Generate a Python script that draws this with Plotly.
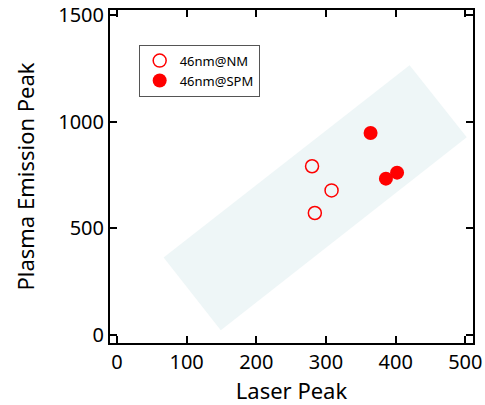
import plotly.graph_objects as go

# Data
nm_x = [280, 308, 284]
nm_y = [791, 678, 572]
spm_x = [364, 386, 402]
spm_y = [947, 733, 761]
band_x = [67, 149, 502, 420, 67]
band_y = [364, 23, 927, 1264, 364]
x_ticks = [0, 100, 200, 300, 400, 500]
y_ticks = [0, 500, 1000, 1500]

FONT = "Noto Sans"

fig = go.Figure()
fig.add_trace(go.Scatter(x=band_x, y=band_y, fill="toself", mode="none",
                         fillcolor="#EEF6F7", showlegend=False, hoverinfo="skip"))
fig.add_trace(go.Scatter(x=nm_x, y=nm_y, mode="markers", name="46nm@NM",
                         marker=dict(symbol="circle-open", size=13, color="#FF0000",
                                     line=dict(width=1.5, color="#FF0000"))))
fig.add_trace(go.Scatter(x=spm_x, y=spm_y, mode="markers", name="46nm@SPM",
                         marker=dict(symbol="circle", size=14, color="#FF0000")))

axis_common = dict(showline=True, linecolor="black", linewidth=2, mirror="ticks",
                   ticks="inside", ticklen=7, tickwidth=2, tickcolor="black",
                   showgrid=False, zeroline=False, automargin=False,
                   tickfont=dict(family=FONT, size=20, color="black"))

fig.update_xaxes(range=[-10, 511], tickvals=x_ticks,
                 title=dict(text="Laser Peak", font=dict(family=FONT, size=22, color="black"),
                            standoff=12),
                 **axis_common)
fig.update_yaxes(range=[-37, 1523], tickvals=y_ticks,
                 title=dict(text="Plasma Emission Peak", font=dict(family=FONT, size=22, color="black"),
                            standoff=18),
                 **axis_common)

fig.update_layout(
    width=485, height=405,
    margin=dict(l=110, r=12, t=10, b=62),
    plot_bgcolor="white", paper_bgcolor="white",
    legend=dict(x=0.079, y=0.896, xanchor="left", yanchor="top",
                bordercolor="#555555", borderwidth=1, bgcolor="white",
                font=dict(family=FONT, size=13, color="black"),
                itemwidth=30, tracegroupgap=0),
)

fig.write_html("out.html", config={"displayModeBar": False},
               post_script="document.body.style.margin='0';document.body.style.overflow='hidden';")
